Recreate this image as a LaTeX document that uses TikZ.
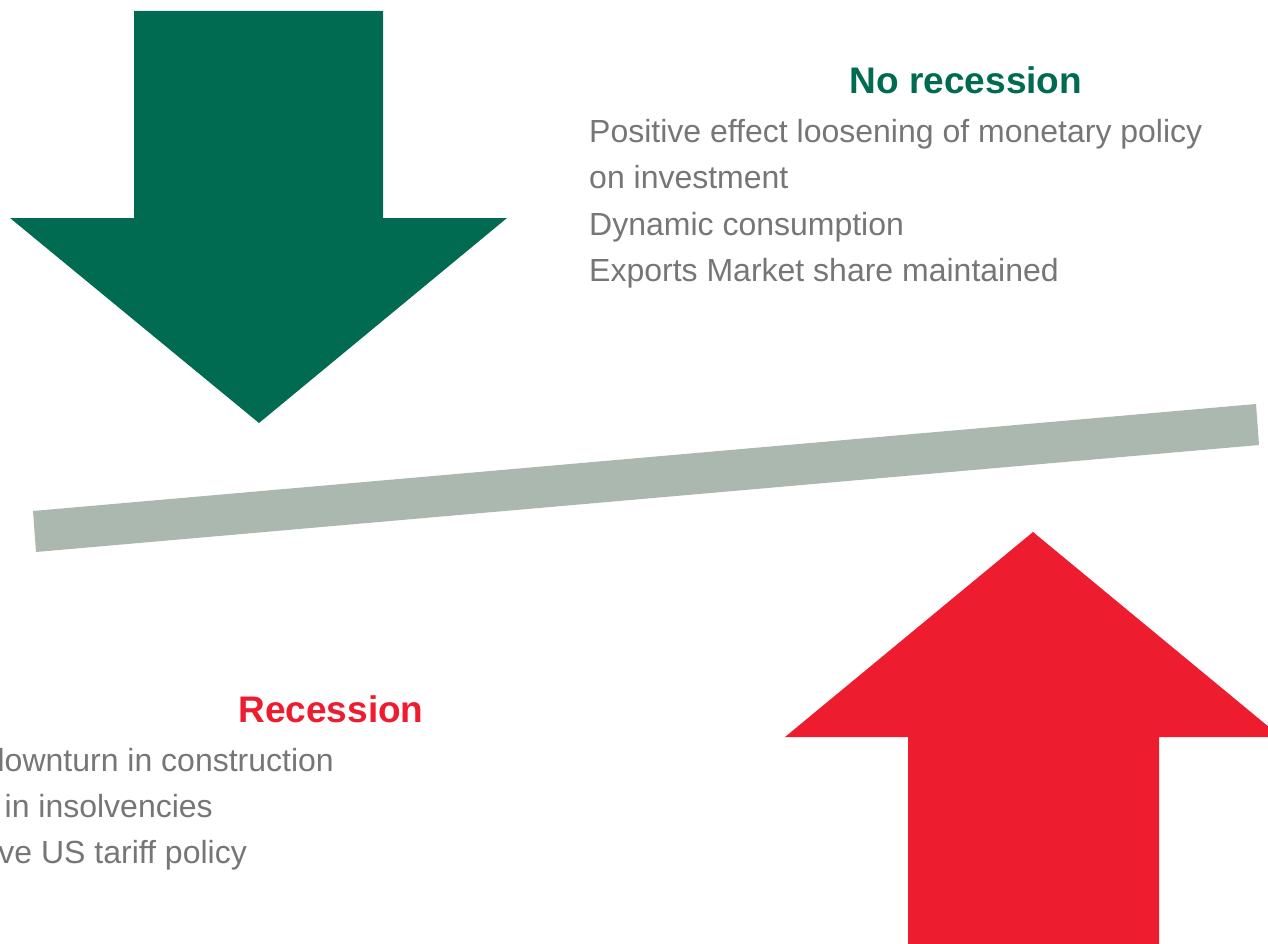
\documentclass[tikz,border=0pt]{standalone}
\usepackage{fontspec}
\setmainfont{Liberation Sans}
\definecolor{upgreen}{RGB}{0,107,80}
\definecolor{downred}{RGB}{237,28,46}
\definecolor{beamgray}{RGB}{170,184,176}
\definecolor{bodygray}{RGB}{118,118,118}
\begin{document}
\begin{tikzpicture}[x=1pt,y=-1pt,
  heading/.style={inner sep=0pt,font=\fontsize{37}{44}\selectfont\bfseries},
  bodyline/.style={inner sep=0pt,text=bodygray,font=\fontsize{32}{38}\selectfont}]
\useasboundingbox (0,0) rectangle (1268,944);
\clip (0,0) rectangle (1268,944);

% downward green arrow
\fill[upgreen] (134,11) -- (383,11) -- (383,218) -- (507,218) -- (259,423)
  -- (10,218) -- (134,218) -- cycle;

% upward red arrow, partly beyond the right and bottom edges
\fill[downred] (908,944) -- (908,737) -- (785,737) -- (1033,532) -- (1281,737)
  -- (1159,737) -- (1159,944) -- cycle;

% tilted balance beam
\fill[beamgray] (33,511) -- (1256,404) -- (1259,445) -- (36,552) -- cycle;

% no-recession scenario
\node[heading,text=upgreen,anchor=base] (norec) at (966,94) {No recession};
\node[bodyline,anchor=base west] (n1) at (589,143) {Positive effect loosening of monetary policy};
\node[bodyline,anchor=base west] (n2) at (589,189) {on investment};
\node[bodyline,anchor=base west] (n3) at (589,235) {Dynamic consumption};
\node[bodyline,anchor=base west] (n4) at (589,281) {Exports Market share maintained};

% recession scenario
\node[heading,text=downred,anchor=base] (rec) at (331,722) {Recession};
\node[bodyline,anchor=base east] (r1) at (334,771) {downturn in construction};
\node[bodyline,anchor=base east] (r2) at (213,817) {in insolvencies};
\node[bodyline,anchor=base east] (r3) at (247,863) {ve US tariff policy};
\end{tikzpicture}
\end{document}
